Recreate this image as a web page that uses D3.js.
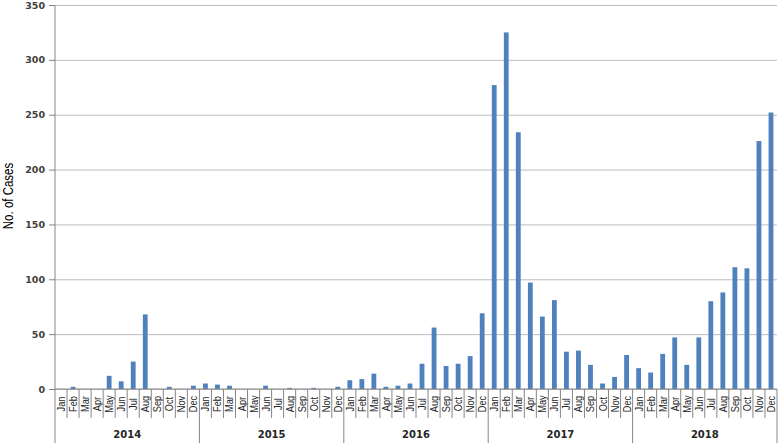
<!DOCTYPE html>
<html>
<head>
<meta charset="utf-8">
<script src="https://cdn.jsdelivr.net/npm/d3@7"></script>
<style>
  body { margin: 0; background: #fff; }
  svg { display: block; }
</style>
</head>
<body>
<svg class="chart"></svg>
<script>
var years = ["2014", "2015", "2016", "2017", "2018"];
var months = ["Jan", "Feb", "Mar", "Apr", "May", "Jun", "Jul", "Aug", "Sep", "Oct", "Nov", "Dec"];

// cases per month, one array per year
var cases2014 = [0, 2, 0, 0, 12, 7, 25, 68, 0, 2, 0, 3];
var cases2015 = [5, 4, 3, 0, 0, 3, 0, 1, 0, 1, 0, 2];
var cases2016 = [8, 9, 14, 2, 3, 5, 23, 56, 21, 23, 30, 69];
var cases2017 = [277, 325, 234, 97, 66, 81, 34, 35, 22, 5, 11, 31];
var cases2018 = [19, 15, 32, 47, 22, 47, 80, 88, 111, 110, 226, 252];

var yTicks = [0, 50, 100, 150, 200, 250, 300, 350];

var margin = {top: 5, right: 1, bottom: 58, left: 55},
    width = 778 - margin.left - margin.right,
    height = 447 - margin.top - margin.bottom;

var allCases = [cases2014, cases2015, cases2016, cases2017, cases2018];
var data = [];
years.forEach(function(yr, i) {
  months.forEach(function(m, j) {
    data.push({key: yr + "-" + m, year: yr, month: m, value: allCases[i][j]});
  });
});

var x = d3.scaleBand()
    .domain(data.map(function(d) { return d.key; }))
    .range([0, width])
    .paddingInner(0.6)
    .paddingOuter(0.3);

var y = d3.scaleLinear()
    .domain([0, 350])
    .range([height, 0]);

var svg = d3.select(".chart")
    .attr("width", 778)
    .attr("height", 447);

var chart = svg.append("g")
    .attr("transform", "translate(" + margin.left + "," + margin.top + ")");

// gridlines
chart.append("g")
    .attr("class", "grid")
    .call(d3.axisLeft(y).tickValues(yTicks).tickSize(-width).tickFormat(""))
    .call(function(g) { g.select(".domain").remove(); })
    .selectAll("line")
    .attr("stroke", "#bdbdbd");

// bars
chart.selectAll(".bar")
    .data(data)
  .enter().append("rect")
    .attr("class", "bar")
    .attr("x", function(d) { return x(d.key); })
    .attr("y", function(d) { return y(d.value); })
    .attr("width", x.bandwidth())
    .attr("height", function(d) { return height - y(d.value); })
    .attr("fill", "#4f81bd");

// y axis
var yAxis = chart.append("g")
    .attr("class", "y axis")
    .call(d3.axisLeft(y).tickValues(yTicks).tickSize(6).tickSizeOuter(0).tickPadding(4));
yAxis.select(".domain").remove();
yAxis.selectAll("line").attr("stroke", "#868686");
yAxis.selectAll("text")
    .style("font", "bold 9.5px 'DejaVu Sans', Verdana, sans-serif")
    .attr("fill", "#404040");

// axis frame lines
var step = x.step();

chart.append("line")
    .attr("x1", 0).attr("x2", 0)
    .attr("y1", 0).attr("y2", height + 54)
    .attr("stroke", "#868686");

chart.append("line")
    .attr("x1", 0).attr("x2", width)
    .attr("y1", height).attr("y2", height)
    .attr("stroke", "#868686");

chart.append("line")
    .attr("x1", width).attr("x2", width)
    .attr("y1", height).attr("y2", height + 54)
    .attr("stroke", "#868686");

// month separators and labels
var monthG = chart.append("g").attr("class", "months");
data.forEach(function(d, i) {
  var left = x(d.key) + x.bandwidth() / 2 - step / 2;
  if (i > 0) {
    monthG.append("line")
        .attr("x1", left).attr("x2", left)
        .attr("y1", height)
        .attr("y2", height + (d.month == "Jan" ? 54 : 29))
        .attr("stroke", "#868686");
  }
  monthG.append("text")
      .attr("transform", "translate(" + (x(d.key) + x.bandwidth() / 2 + 4) + "," + (height + 15) + ") rotate(-90) scale(0.84,1)")
      .style("text-anchor", "middle")
      .style("font", "11px 'Liberation Sans', Arial, sans-serif")
      .attr("fill", "#262626")
      .text(d.month);
});

// year labels
chart.selectAll(".year")
    .data(years)
  .enter().append("text")
    .attr("class", "year")
    .attr("x", function(yr) {
      return (x(yr + "-Jan") + x(yr + "-Dec") + x.bandwidth()) / 2;
    })
    .attr("y", height + 49)
    .style("text-anchor", "middle")
    .style("font", "bold 10px 'DejaVu Sans', Verdana, sans-serif")
    .attr("fill", "#262626")
    .text(function(yr) { return yr; });

// y label
svg.append("text")
    .attr("transform", "translate(13,196) rotate(-90) scale(0.82,1)")
    .style("text-anchor", "middle")
    .style("font", "14px 'Liberation Sans', Arial, sans-serif")
    .attr("fill", "#000")
    .text("No. of Cases");
</script>
</body>
</html>
